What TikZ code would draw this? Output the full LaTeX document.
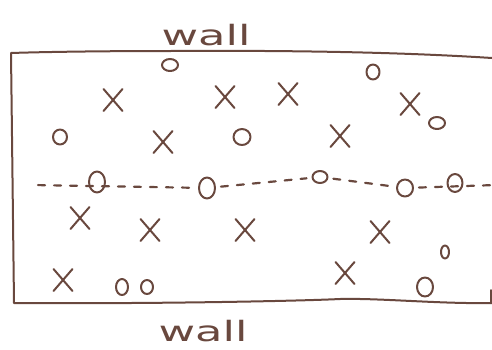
\documentclass[tikz,border=0pt]{standalone}
\usepackage{fontspec}
\setmainfont{DejaVu Sans}
\usetikzlibrary{shapes.geometric,shapes.misc}
\definecolor{ink}{RGB}{105,72,62}
\begin{document}
\begin{tikzpicture}[x=1pt,y=-1pt,
  ink/.style={draw=ink,line width=2pt,line cap=round,line join=round},
  omark/.style 2 args={ellipse,ink,inner sep=0pt,minimum width=#1,minimum height=#2},
  xmark/.style={cross out,ink,inner sep=0pt,minimum width=17pt,minimum height=20pt},
  dashline/.style={ink,line width=2.2pt,dash pattern=on 7pt off 9pt,shorten <=5pt,shorten >=5pt},
  walllabel/.style={text=ink,font=\fontsize{28}{28}\selectfont,inner sep=0pt,anchor=base}]
\useasboundingbox (0,0) rectangle (492,349);
% walls
\draw[ink] (492,58) .. controls (430,54) and (330,50) .. (170,51) .. controls (100,51) and (40,52) .. (11,53)
  -- (14,303) .. controls (150,304) and (300,301) .. (340,299) .. controls (380,298) and (440,304) .. (492,303);
\draw[ink] (491,290) -- (491,303);
\node[walllabel] (wtop) at (206,45) {\scalebox{1.6}[1]{wall}};
\node[walllabel] (wbot) at (203,341) {\scalebox{1.6}[1]{wall}};
% o marks
\node[omark={16pt}{12pt}] (t1) at (170,65) {};
\node[omark={13pt}{15pt}] (t2) at (373,72) {};
\node[omark={14pt}{15pt}] (o3) at (60,137) {};
\node[omark={17pt}{16pt}] (o4) at (242,137) {};
\node[omark={16pt}{12pt}] (o5) at (437,123) {};
\node[omark={16pt}{21pt}] (c1) at (97,182) {};
\node[omark={16pt}{21pt}] (c2) at (207,188) {};
\node[omark={15pt}{12pt}] (c3) at (320,177) {};
\node[omark={16pt}{17pt}] (c4) at (405,188) {};
\node[omark={15pt}{18pt}] (c5) at (455,183) {};
\node[omark={8pt}{13pt}] (b1) at (445,252) {};
\node[omark={12pt}{16pt}] (b2) at (122,287) {};
\node[omark={12pt}{14pt}] (b3) at (147,287) {};
\node[omark={16pt}{19pt}] (b4) at (425,287) {};
% x marks
\node[xmark] (x1) at (113,100) {};
\node[xmark] (x2) at (225,97) {};
\node[xmark] (x3) at (288,94) {};
\node[xmark] (x4) at (410,104) {};
\node[xmark] (x5) at (163,142) {};
\node[xmark] (x6) at (340,136) {};
\node[xmark] (x7) at (80,218) {};
\node[xmark] (x8) at (150,230) {};
\node[xmark] (x9) at (245,230) {};
\node[xmark] (x10) at (380,232) {};
\node[xmark] (x11) at (63,280) {};
\node[xmark] (x12) at (345,273) {};
% dashed line
\coordinate (dl) at (33,185);
\coordinate (dr) at (496,185);
\draw[dashline] (dl) -- (c2);
\draw[dashline] (c2) -- (c3);
\draw[dashline] (c3) -- (c4);
\draw[dashline] (c4) -- (dr);
\end{tikzpicture}
\end{document}
